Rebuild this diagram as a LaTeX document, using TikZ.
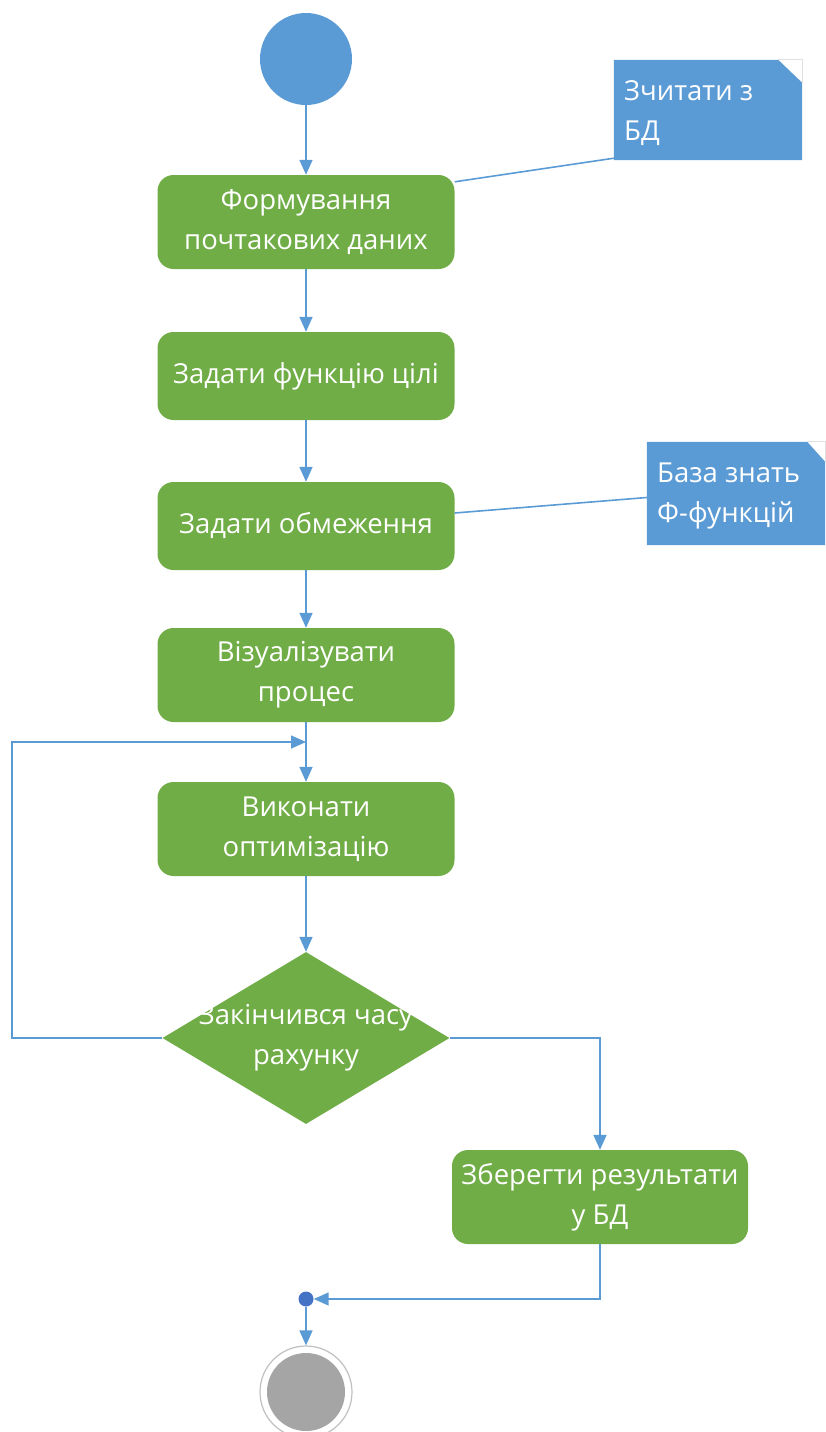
\documentclass[tikz,border=0pt]{standalone}
\usepackage{fontspec}
\setmainfont{Open Sans}
\usetikzlibrary{shapes.geometric,arrows.meta}
\definecolor{actgreen}{HTML}{70AD47}
\definecolor{flowblue}{HTML}{5B9BD5}
\definecolor{dotblue}{HTML}{4472C4}
\definecolor{endgray}{HTML}{A5A5A5}
\tikzset{
  labelfont/.style={font=\fontsize{27.5}{40}\selectfont},
  actbox/.style={rectangle, rounded corners=16pt, fill=actgreen, text=white,
    minimum width=297pt, minimum height=94pt, align=center, inner sep=2pt, labelfont},
  decbox/.style={diamond, fill=actgreen, minimum width=287pt, minimum height=172pt, inner sep=0pt},
  dectext/.style={text=white, align=center, labelfont},
  notetext/.style={text=white, align=left, labelfont, anchor=north west, inner sep=0pt},
  flow/.style={draw=flowblue, line width=1.6pt},
  arr/.style={flow, -{Triangle[width=13pt,length=15pt]}},
}
\begin{document}
\begin{tikzpicture}[x=1pt,y=-1pt]
\useasboundingbox (0,0) rectangle (825,1432);

% initial and final states
\node (start) [circle, fill=flowblue, minimum size=92pt, inner sep=0pt] at (306,59) {};
\node (dot) [circle, fill=dotblue, minimum size=15pt, inner sep=0pt] at (306,1299) {};
\node (end) [circle, draw=endgray!70, line width=1.2pt, fill=white, minimum size=92pt, inner sep=0pt] at (306,1392) {};
\node (endcore) [circle, fill=endgray, minimum size=78pt, inner sep=0pt] at (end) {};

% activities
\node (b1) [actbox] at (306,222) {Формування\\почтакових даних};
\node (b2) [actbox, minimum height=88pt] at (306,376) {Задати функцію цілі};
\node (b3) [actbox, minimum height=88pt] at (306,526) {Задати обмеження};
\node (b4) [actbox] at (306,675) {Візуалізувати\\процес};
\node (b5) [actbox] at (306,829) {Виконати\\оптимізацію};
\node (dec) [decbox] at (306,1038) {};
\node (dect) [dectext] at (306,1038) {Закінчився часу\\рахунку};
\node (b6) [actbox, minimum width=296pt] at (600,1197) {Зберегти результати\\у БД};

% notes with a folded corner
\node (n1) [minimum width=188pt, minimum height=100pt, inner sep=0pt] at (708,110) {};
\fill[flowblue] (n1.north west) -- ([xshift=-24pt]n1.north east) -- ([yshift=-23pt]n1.north east)
  -- (n1.south east) -- (n1.south west) -- cycle;
\draw[black!12, line width=0.8pt] ([xshift=-24pt]n1.north east) -- (n1.north east) -- ([yshift=-23pt]n1.north east);
\node (n1t) [notetext] at (624,80) {Зчитати з\\БД};

\node (n2) [minimum width=178pt, minimum height=103pt, inner sep=0pt] at (736,493.5) {};
\fill[flowblue] (n2.north west) -- ([xshift=-18pt]n2.north east) -- ([yshift=-20pt]n2.north east)
  -- (n2.south east) -- (n2.south west) -- cycle;
\draw[black!12, line width=0.8pt] ([xshift=-18pt]n2.north east) -- (n2.north east) -- ([yshift=-20pt]n2.north east);
\node (n2t) [notetext] at (657,463) {База знать\\Ф-функцій};

% note anchors
\draw[flow] ([yshift=2pt]n1.south west) -- ([yshift=-7pt]b1.north east);
\draw[flow] ([yshift=-4pt]n2.west) -- ([yshift=13pt]b3.east);

% control flow
\coordinate (join) at (306,742);
\coordinate (loopL) at (12,1038);
\draw[arr] (start) -- (b1);
\draw[arr] (b1) -- (b2);
\draw[arr] (b2) -- (b3);
\draw[arr] (b3) -- (b4);
\draw[arr] (b4) -- (b5);
\draw[arr] (b5) -- (dec.north);
\draw[arr] (dec.west) -- (loopL) |- (join);
\draw[arr] (dec.east) -| (b6.north);
\draw[arr] (b6.south) |- (dot.east);
\draw[arr] (dot) -- (end.north);
\end{tikzpicture}
\end{document}
